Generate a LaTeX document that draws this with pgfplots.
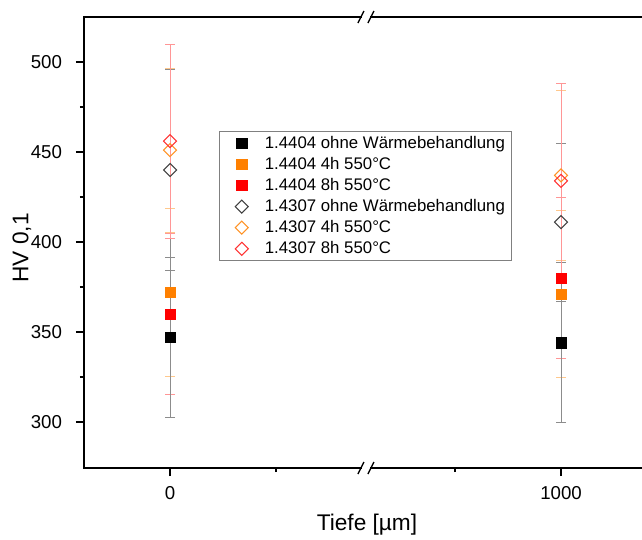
\documentclass[border=0pt]{standalone}
\usepackage{fontspec}
\setmainfont{Liberation Sans}
\usepackage{pgfplots}
\pgfplotsset{compat=1.18}
\definecolor{cOr}{RGB}{255,128,0}
\definecolor{cRd}{RGB}{255,0,0}
\definecolor{ebRd}{RGB}{255,150,150}
\definecolor{ebOr}{RGB}{255,200,140}
\definecolor{ebBk}{RGB}{140,140,140}
\pgfplotsset{
  ebar/.style={forget plot, draw=none, mark=none,
    error bars/.cd, y dir=both, y explicit,
    error bar style={draw=#1, line width=0.7pt},
    error mark options={rotate=90, mark size=3.75pt, draw=#1, line width=0.7pt}},
}
\begin{document}
\begin{tikzpicture}
\begin{axis}[name=ax, scale only axis, width=424.5pt, height=338.25pt,
  xmin=-220, xmax=1227.6, ymin=274.44, ymax=525,
  clip=false,
  xtick={0,1000}, minor xtick={271,729},
  ytick={300,350,400,450,500}, minor ytick={325,375,425,475},
  tick pos=left, tick align=outside,
  major tick length=6pt, minor tick length=3pt,
  axis line style={line width=1.1pt},
  every tick/.style={black, line width=1.1pt},
  tick label style={font=\fontsize{14}{16}\selectfont},
  yticklabel style={anchor=east, xshift=-7pt},
  xticklabel style={yshift=-4.5pt, /pgf/number format/1000 sep={}},
  /pgf/number format/assume math mode=true,
  xlabel={Tiefe [µm]}, ylabel={HV 0,1},
  label style={font=\fontsize{17}{20}\selectfont},
  xlabel style={at={(axis description cs:0.5,-0.1264)}, anchor=center},
  ylabel style={at={(axis description cs:-0.1095,0.488)}, anchor=center},
  legend style={at={(0.2385,0.747)}, anchor=north west, draw=gray, line width=0.6pt,
    font=\fontsize{12.6}{15}\selectfont, row sep=1.2pt, inner xsep=3pt, inner ysep=1.5pt},
  legend cell align=left,
  legend image code/.code={\path (-13.5pt,0pt) (15pt,0pt);
     \draw[#1] plot coordinates {(0pt,0pt)};},
]
% ---- error bars (drawn first, in Origin-like stacking order) ----
\addplot[ebar=ebRd] coordinates {(0,360) +- (0,44.5) (1000,380) +- (0,44.5)};  % 1.4404 8h
\addplot[ebar=ebOr] coordinates {(0,372) +- (0,46.5) (1000,371) +- (0,46.5)};  % 1.4404 4h
\addplot[ebar=ebBk] coordinates {(0,347) +- (0,44.5) (1000,344) +- (0,44.5)};  % 1.4404 ohne
\addplot[ebar=ebBk] coordinates {(0,440) +- (0,56) (1000,411) +- (0,44)};      % 1.4307 ohne
\addplot[ebar=ebOr] coordinates {(0,451) +- (0,45.5) (1000,437) +- (0,47)};    % 1.4307 4h
\addplot[ebar=ebRd] coordinates {(0,456) +- (0,54) (1000,434) +- (0,54)};      % 1.4307 8h
% ---- markers ----
\addplot[only marks, mark=square*, mark size=3.9pt, black, mark options={fill=black}]
  coordinates {(0,347) (1000,344)};
\addlegendentry{1.4404 ohne Wärmebehandlung}
\addplot[only marks, mark=square*, mark size=3.9pt, cOr, mark options={fill=cOr}]
  coordinates {(0,372) (1000,371)};
\addlegendentry{1.4404 4h 550°C}
\addplot[only marks, mark=square*, mark size=3.9pt, cRd, mark options={fill=cRd}]
  coordinates {(0,360) (1000,380)};
\addlegendentry{1.4404 8h 550°C}
\addplot[only marks, mark=square, mark size=3.45pt, black!75, mark options={rotate=45, fill=none, line width=0.8pt}]
  coordinates {(0,440) (1000,411)};
\addlegendentry{1.4307 ohne Wärmebehandlung}
\addplot[only marks, mark=square, mark size=3.45pt, cOr!85, mark options={rotate=45, fill=none, line width=0.8pt}]
  coordinates {(0,451) (1000,437)};
\addlegendentry{1.4307 4h 550°C}
\addplot[only marks, mark=square, mark size=3.45pt, cRd!80, mark options={rotate=45, fill=none, line width=0.8pt}]
  coordinates {(0,456) (1000,434)};
\addlegendentry{1.4307 8h 550°C}
% axis break marks
\fill[white] ([shift={(-3.2pt,-1.5pt)}]axis cs:501,525) rectangle ([shift={(3.2pt,1.5pt)}]axis cs:501,525);
\draw[line width=1pt] ([shift={(-6pt,-4.5pt)}]axis cs:501,525) -- ([shift={(-1.5pt,4.5pt)}]axis cs:501,525);
\draw[line width=1pt] ([shift={(1.5pt,-4.5pt)}]axis cs:501,525) -- ([shift={(6pt,4.5pt)}]axis cs:501,525);
\fill[white] ([shift={(-3.2pt,-1.5pt)}]axis cs:501,274.44) rectangle ([shift={(3.2pt,1.5pt)}]axis cs:501,274.44);
\draw[line width=1pt] ([shift={(-6pt,-4.5pt)}]axis cs:501,274.44) -- ([shift={(-1.5pt,4.5pt)}]axis cs:501,274.44);
\draw[line width=1pt] ([shift={(1.5pt,-4.5pt)}]axis cs:501,274.44) -- ([shift={(6pt,4.5pt)}]axis cs:501,274.44);
\end{axis}
\pgfresetboundingbox
\path[use as bounding box] (ax.south west) ++(-63pt,-53.25pt) rectangle ++(481.5pt,404.25pt);
\end{tikzpicture}
\end{document}
